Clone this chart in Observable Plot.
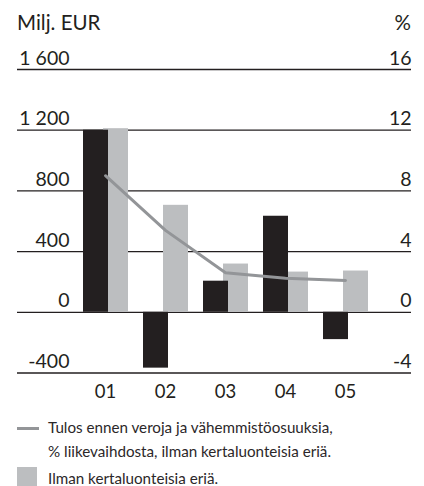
<!DOCTYPE html>
<html>
<head>
<meta charset="utf-8">
<script src="https://cdn.jsdelivr.net/npm/d3@7"></script>
<script src="https://cdn.jsdelivr.net/npm/@observablehq/plot@0.6"></script>
<style>
  body { margin: 0; background: #fff; color: #231f20; font-family: Lato, "Open Sans", sans-serif; }
  #wrap { width: 424px; position: relative; }
  .title { position: relative; height: 40px; font-size: 20.5px; }
  .title span { position: absolute; top: 11.5px; line-height: 20px; }
  .legend { position: relative; height: 76px; font-size: 15.2px; color: #2b2729; }
  .legend .sw-line { position: absolute; left: 17px; top: 16.5px; width: 22px; height: 3px; background: #939598; }
  .legend .sw-box { position: absolute; left: 17px; top: 57px; width: 20px; height: 20px; background: #bcbec0; }
  .legend .txt { position: absolute; left: 48px; line-height: 24px; white-space: nowrap; }
  svg { display: block; }
</style>
</head>
<body>
<div id="wrap">
  <div class="title"><span style="left:17px">Milj. EUR</span><span style="right:13px">%</span></div>
  <div id="chart"></div>
  <div class="legend">
    <div class="sw-line"></div>
    <div class="txt" style="top:5px">Tulos ennen veroja ja vähemmistöosuuksia,<br>% liikevaihdosta, ilman kertaluonteisia eriä.</div>
    <div class="sw-box"></div>
    <div class="txt" style="top:56px">Ilman kertaluonteisia eriä.</div>
  </div>
</div>
<script>
// Data (Milj. EUR and %)
const years = ["01", "02", "03", "04", "05"];
const reported = [1200, -368, 205, 633, -180];          // black bars
const excludingItems = [1210, 705, 318, 265, 272];      // grey bars: ilman kertaluonteisia eriä
const pctOfSales = [9.0, 5.4, 2.6, 2.25, 2.1];          // line, % liikevaihdosta

// Axis ticks and labels
const yTicks = [-400, 0, 400, 800, 1200, 1600];
const leftLabels = ["-400", "0", "400", "800", "1 200", "1 600"];
const rightLabels = ["-4", "0", "4", "8", "12", "16"];

const rows = years.map((y, i) => ({year: y, reported: reported[i], excl: excludingItems[i], pct: pctOfSales[i]}));

const chart = Plot.plot({
  width: 424,
  height: 370,
  marginTop: 29,
  marginBottom: 37.5,
  marginLeft: 17,
  marginRight: 13,
  style: {fontFamily: "Lato, 'Open Sans', sans-serif", color: "#231f20", background: "#fff"},
  x: {type: "band", domain: years, range: [75, 375], padding: 0, axis: null},
  y: {domain: [-400, 1600], axis: null},
  marks: [
    Plot.ruleY(yTicks, {stroke: "#231f20", strokeWidth: 1.3}),
    Plot.barY(rows, {x: "year", y: "excl", fill: "#bcbec0", insetLeft: 28, insetRight: 7}),
    Plot.barY(rows, {x: "year", y: "reported", fill: "#231f20", insetLeft: 8, insetRight: 27}),
    // right axis: 16 % corresponds to 1 600 Milj. EUR
    Plot.line(rows, {x: "year", y: d => d.pct * 100, stroke: "#939598", strokeWidth: 3}),
    Plot.text(yTicks, {y: yTicks, text: leftLabels, frameAnchor: "left", textAnchor: "end", dx: 52, dy: -5, lineAnchor: "bottom", fontSize: 19.5, fill: "#231f20"}),
    Plot.text(yTicks, {y: yTicks, text: rightLabels, frameAnchor: "right", textAnchor: "end", dy: -5, lineAnchor: "bottom", fontSize: 19.5, fill: "#231f20"}),
    Plot.text(years, {x: years, text: years, frameAnchor: "bottom", dy: 24.5, lineAnchor: "bottom", fontSize: 18.5, fill: "#231f20"})
  ]
});
document.getElementById("chart").appendChild(chart);
</script>
</body>
</html>
